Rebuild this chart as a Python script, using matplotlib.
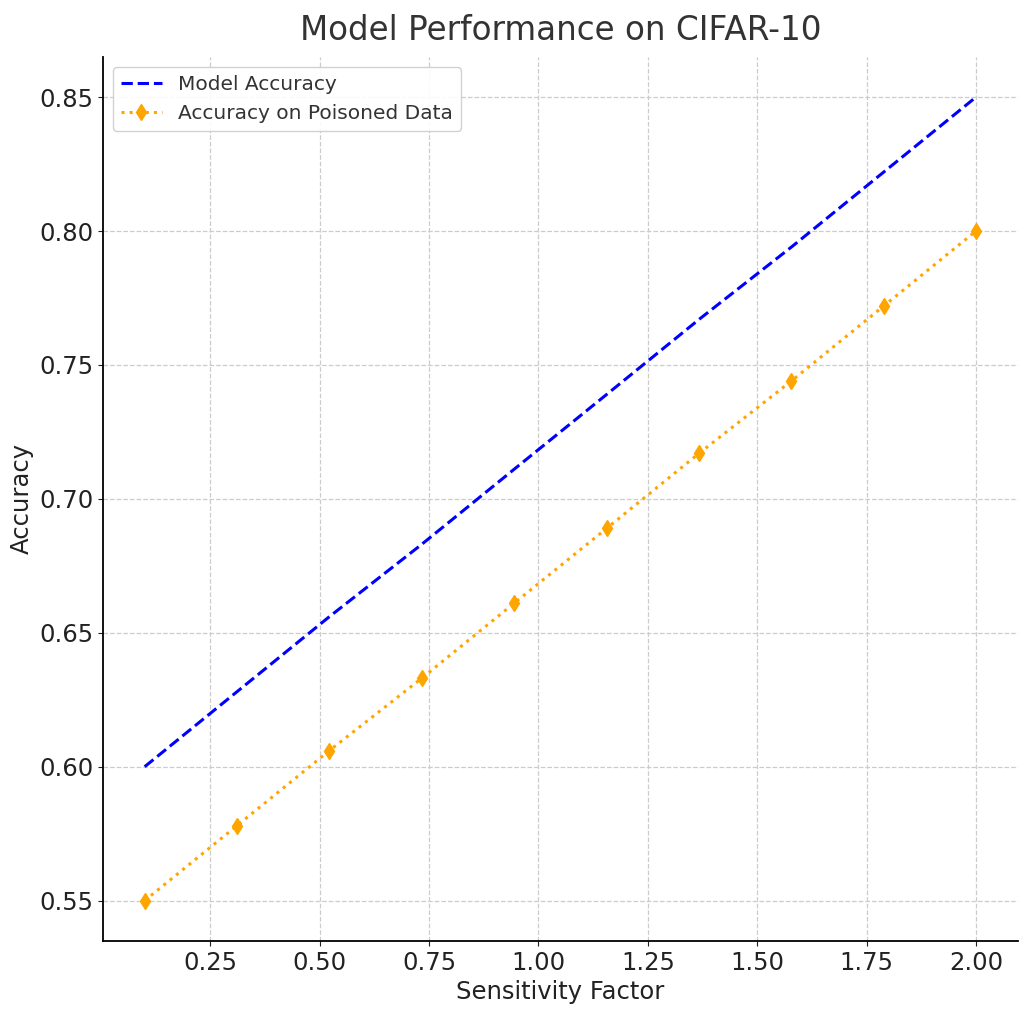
import matplotlib
matplotlib.use("Agg")
import matplotlib.pyplot as plt

# Sensitivity factors (10 evenly spaced points between 0.1 and 2.0)
sensitivity = [0.100, 0.311, 0.522, 0.733, 0.944, 1.156, 1.367, 1.578, 1.789, 2.000]
model_acc = [0.600, 0.628, 0.656, 0.683, 0.711, 0.739, 0.767, 0.794, 0.822, 0.850]
poisoned_acc = [0.550, 0.578, 0.606, 0.633, 0.661, 0.689, 0.717, 0.744, 0.772, 0.800]

plt.rcParams['text.color'] = '#333333'

fig = plt.figure(figsize=(10.31, 10.16), dpi=100)
ax = fig.add_axes([0.1, 0.074, 0.887, 0.870])

ax.plot(sensitivity, model_acc, linestyle='--', color='blue', linewidth=2.2,
        label='Model Accuracy')
ax.plot(sensitivity, poisoned_acc, linestyle=':', color='orange', linewidth=2.2,
        marker='d', markersize=8.5, label='Accuracy on Poisoned Data')

ax.set_title('Model Performance on CIFAR-10', fontsize=23.5, color='#333333', pad=12)
ax.set_xlabel('Sensitivity Factor', fontsize=17.5, color='#222222')
ax.set_ylabel('Accuracy', fontsize=17.5, color='#222222')

ax.set_xticks([0.25, 0.50, 0.75, 1.00, 1.25, 1.50, 1.75, 2.00])
ax.set_yticks([0.55, 0.60, 0.65, 0.70, 0.75, 0.80, 0.85])
ax.tick_params(labelsize=17.5, colors='#222222')
ax.set_xlim(0.005, 2.095)
ax.set_ylim(0.535, 0.865)

ax.grid(True, linestyle='--', color='#cccccc', linewidth=0.9)
ax.spines['top'].set_visible(False)
ax.spines['right'].set_visible(False)
ax.spines['left'].set_linewidth(1.3)
ax.spines['bottom'].set_linewidth(1.3)

ax.legend(loc='upper left', fontsize=14.5, framealpha=0.9)

fig.savefig('out.png', dpi=100)
